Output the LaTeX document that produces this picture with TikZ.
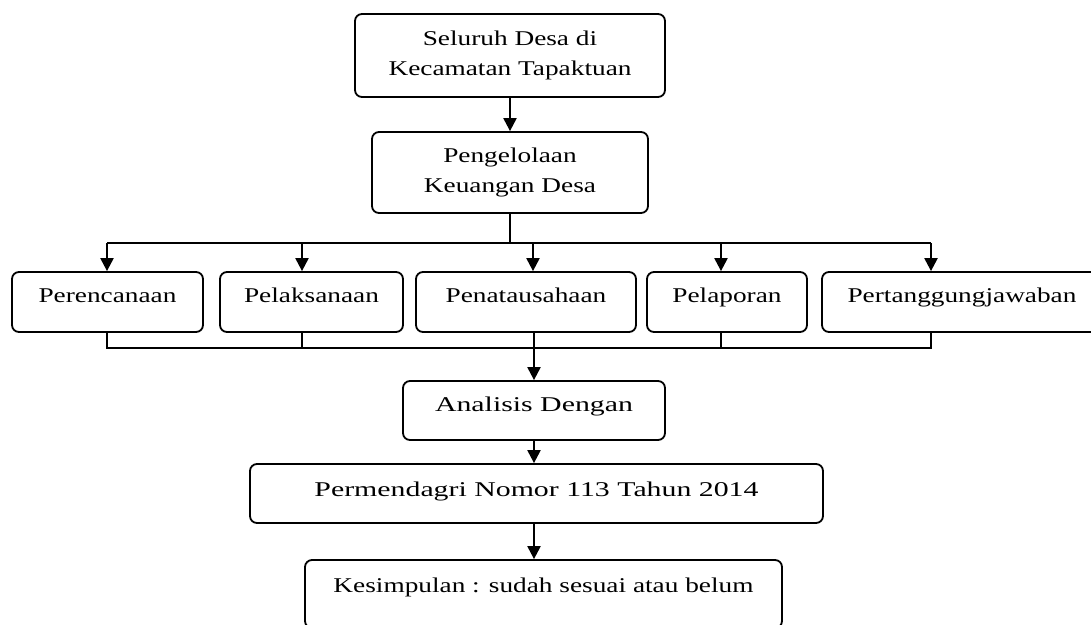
\documentclass[tikz,border=0pt]{standalone}
\usepackage{fontspec}
\setmainfont{Liberation Serif}[FakeStretch=1.3]
\newfontfamily\widefont{Liberation Serif}[FakeStretch=1.42]
\usetikzlibrary{arrows.meta}
\begin{document}
\begin{tikzpicture}[x=1pt,y=-1pt,
  box/.style={draw, line width=1.8pt, rounded corners=7pt, inner sep=0pt,
    font=\fontsize{21}{30}\selectfont, align=center},
  lift/.style={text height=14pt, text depth=#1},
  arr/.style={line width=2.2pt, -{Triangle[width=13pt,length=13pt]}},
  ln/.style={line width=1.8pt}]
\clip (0,0) rectangle (1091,624);
\fill[white] (0,0) rectangle (1091,624);
% top boxes
\node[box, minimum width=310pt, minimum height=83pt] (s) at (510,55.5) {Seluruh Desa di\\Kecamatan Tapaktuan};
\node[box, minimum width=276pt, minimum height=81pt] (k) at (510,172.5) {Pengelolaan\\Keuangan Desa};
% row
\node[box, lift=13pt, minimum width=191pt, minimum height=60pt] (p1) at (107.5,302) {Perencanaan};
\node[box, lift=13pt, minimum width=183pt, minimum height=60pt] (p2) at (311.5,302) {Pelaksanaan};
\node[box, lift=13pt, minimum width=220pt, minimum height=60pt] (p3) at (526,302) {Penatausahaan};
\node[box, lift=13pt, minimum width=160pt, minimum height=60pt] (p4) at (727,302) {Pelaporan};
\node[box, lift=13pt, minimum width=280pt, minimum height=60pt] (p5) at (962,302) {Pertanggungjawaban};
% lower boxes
\node[box, lift=12pt, minimum width=262pt, minimum height=59pt, font=\widefont\fontsize{21}{30}\selectfont] (a) at (534,410.5) {Analisis Dengan};
\node[box, lift=9pt, minimum width=573pt, minimum height=59pt, font=\widefont\fontsize{21}{30}\selectfont] (pm) at (536.5,493.5) {Permendagri Nomor 113 Tahun 2014};
\node[box, lift=18pt, minimum width=477pt, minimum height=68pt] (ks) at (543.5,594) {Kesimpulan : sudah sesuai atau belum};
% top connector
\draw[arr] (s.south) -- (k.north);
\coordinate (tk) at (510,243);
\coordinate (ta) at (107,243);
\coordinate (tb) at (302,243);
\coordinate (tc) at (533,243);
\coordinate (td) at (721,243);
\coordinate (te) at (931,243);
\draw[ln] (k.south) -- (tk);
\draw[ln] (ta) -- (te);
\draw[arr] (ta) -- (ta |- p1.north);
\draw[arr] (tb) -- (tb |- p2.north);
\draw[arr] (tc) -- (tc |- p3.north);
\draw[arr] (td) -- (td |- p4.north);
\draw[arr] (te) -- (te |- p5.north);
% bottom bus
\coordinate (ba) at (107,348);
\coordinate (bb) at (302,348);
\coordinate (bd) at (721,348);
\coordinate (be) at (931,348);
\draw[ln] (ba |- p1.south) -- (ba) -- (be) -- (be |- p5.south);
\draw[ln] (bb |- p2.south) -- (bb);
\draw[ln] (bd |- p4.south) -- (bd);
\draw[arr] (a.north |- p3.south) -- (a.north);
\draw[arr] (a.south) -- (a.south |- pm.north);
\draw[arr] (a.south |- pm.south) -- (a.south |- ks.north);
\end{tikzpicture}
\end{document}
